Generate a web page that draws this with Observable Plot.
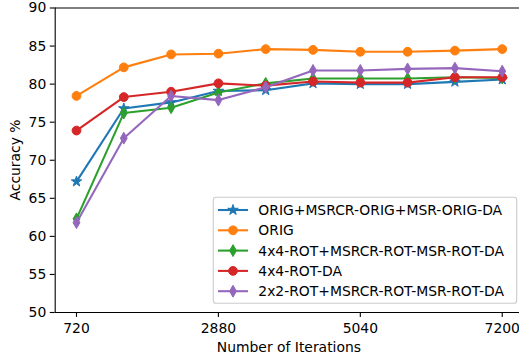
<!DOCTYPE html>
<html>
<head>
<meta charset="utf-8">
<script src="https://cdn.jsdelivr.net/npm/d3@7"></script>
<script src="https://cdn.jsdelivr.net/npm/@observablehq/plot@0.6"></script>
<style>
  html, body { margin: 0; padding: 0; background: white; }
</style>
</head>
<body>
<div id="chart"></div>
<script>
const iterations = [720, 1440, 2160, 2880, 3600, 4320, 5040, 5760, 6480, 7200];
const xTicks = [720, 2880, 5040, 7200];
const yTicks = [50, 55, 60, 65, 70, 75, 80, 85, 90];

const seriesNames = [
  "ORIG+MSRCR-ORIG+MSR-ORIG-DA",
  "ORIG",
  "4x4-ROT+MSRCR-ROT-MSR-ROT-DA",
  "4x4-ROT-DA",
  "2x2-ROT+MSRCR-ROT-MSR-ROT-DA"
];
const seriesColors = ["#1f77b4", "#ff7f0e", "#2ca02c", "#d62728", "#9467bd"];
const seriesSymbols = ["star", "circle", "diamond", "circle", "diamond"];

const origMsrcrOrigMsrDa = [67.2, 76.8, 77.6, 79.1, 79.2, 80.1, 80.0, 80.0, 80.3, 80.6];
const orig               = [78.45, 82.2, 83.9, 84.0, 84.6, 84.5, 84.25, 84.25, 84.4, 84.6];
const rot4x4MsrcrMsrDa   = [62.3, 76.2, 76.9, 78.9, 80.1, 80.75, 80.75, 80.75, 80.9, 80.8];
const rot4x4Da           = [73.9, 78.3, 79.0, 80.1, 79.8, 80.35, 80.2, 80.2, 80.9, 80.9];
const rot2x2MsrcrMsrDa   = [61.8, 72.9, 78.45, 77.9, 79.6, 81.8, 81.8, 82.0, 82.1, 81.7];

const seriesValues = [origMsrcrOrigMsrDa, orig, rot4x4MsrcrMsrDa, rot4x4Da, rot2x2MsrcrMsrDa];

const symbolR = {star: 3.3, circle: 4.4, diamond: 3.6};

const seriesMarks = [];
seriesValues.forEach((vals, i) => {
  const data = iterations.map((x, j) => ({x, y: vals[j], s: seriesNames[i]}));
  seriesMarks.push(Plot.line(data, {x: "x", y: "y", stroke: seriesColors[i], strokeWidth: 2.08}));
  seriesMarks.push(Plot.dot(data, {
    x: "x", y: "y", symbol: () => seriesSymbols[i], r: symbolR[seriesSymbols[i]],
    fill: seriesColors[i], stroke: seriesColors[i], strokeWidth: 1
  }));
});

const xMin = 396, xMax = 7463;
const chart = Plot.plot({
  width: 519,
  height: 360,
  marginLeft: 54.7,
  marginRight: 0,
  marginTop: 7.5,
  marginBottom: 48,
  x: {domain: [xMin, xMax]},
  y: {domain: [50, 90]},
  symbol: {type: "identity"},
  style: {fontFamily: "DejaVu Sans", fontSize: "13.9px", color: "black", background: "white", overflow: "visible"},
  marks: [
    Plot.axisX({ticks: xTicks, tickSize: 4.9, tickPadding: 5.5, label: null, tickFormat: d => String(d), strokeWidth: 1.1}),
    Plot.axisY({ticks: yTicks, tickSize: 4.9, tickPadding: 4, label: null, strokeWidth: 1.1}),
    ...seriesMarks,
    Plot.ruleX([xMin], {stroke: "black", strokeWidth: 1.1}),
    Plot.ruleY([50, 90], {stroke: "black", strokeWidth: 1.1})
  ]
});

document.getElementById("chart").appendChild(chart);

const svg = d3.select(chart);

// axis labels
svg.append("text")
  .attr("x", 288.9).attr("y", 352)
  .style("text-anchor", "middle")
  .style("font-family", "DejaVu Sans").style("font-size", "13.9px").style("fill", "black")
  .text("Number of Iterations");
svg.append("text")
  .attr("transform", "translate(19.5,160) rotate(-90)")
  .style("text-anchor", "middle")
  .style("font-family", "DejaVu Sans").style("font-size", "13.9px").style("fill", "black")
  .text("Accuracy %");

// legend
const lg = svg.append("g");
lg.append("rect")
  .attr("x", 213.3).attr("y", 197.3).attr("width", 303.4).attr("height", 106)
  .attr("rx", 2.8).attr("ry", 2.8)
  .style("fill", "white").style("fill-opacity", 0.8)
  .style("stroke", "#cccccc").style("stroke-width", 1.1);
const rowY = [210, 230.3, 250.6, 270.9, 291.2];
const symGen = {
  star: d3.symbolStar, circle: d3.symbolCircle, diamond: d3.symbolDiamond
};
seriesNames.forEach((name, i) => {
  const y = rowY[i];
  lg.append("line").attr("x1", 218).attr("x2", 248).attr("y1", y).attr("y2", y)
    .style("stroke", seriesColors[i]).style("stroke-width", 2.08);
  const r = symbolR[seriesSymbols[i]];
  lg.append("path")
    .attr("d", d3.symbol(symGen[seriesSymbols[i]], Math.PI * r * r)())
    .attr("transform", `translate(233,${y})`)
    .style("fill", seriesColors[i]).style("stroke", seriesColors[i]).style("stroke-width", 1);
  lg.append("text")
    .attr("x", 258.3).attr("y", y).attr("dy", "0.36em")
    .style("text-anchor", "start")
    .style("font-family", "DejaVu Sans").style("font-size", "13.9px").style("fill", "black")
    .text(name);
});
</script>
</body>
</html>
